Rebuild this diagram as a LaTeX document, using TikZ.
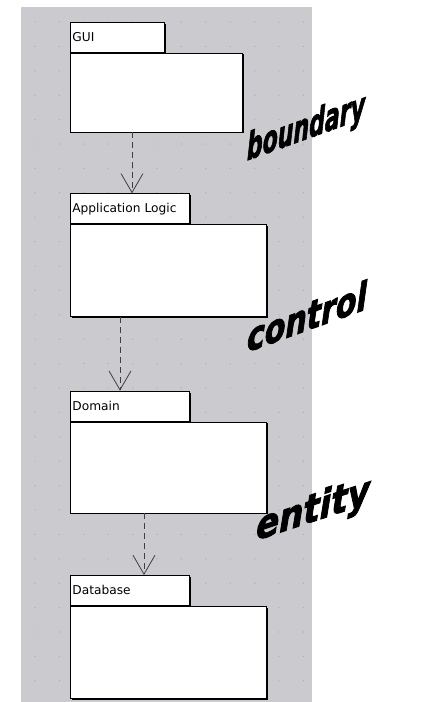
\documentclass[tikz,border=0pt]{standalone}
\usepackage{fontspec}
\setmainfont{DejaVu Sans}
\newfontface\wordartfont{DejaVu Sans Bold Oblique}[FakeBold=2.5]
\usetikzlibrary{positioning,arrows.meta,shadows}
\definecolor{panelgray}{RGB}{203,203,207}
\definecolor{dotgray}{RGB}{172,172,178}

\begin{document}
\begin{tikzpicture}[x=1pt, y=-1pt,
  pkgtab/.style={draw, fill=white, line width=.8pt, inner xsep=2pt, inner ysep=0pt,
    minimum height=30pt, align=left, anchor=north west,
    font=\fontsize{12.2}{14}\selectfont,
    drop shadow={shadow xshift=1.4pt, shadow yshift=-1.4pt, fill=black, opacity=1}},
  pkgbody/.style={draw, fill=white, line width=.8pt, inner sep=0pt,
    drop shadow={shadow xshift=1.4pt, shadow yshift=-1.4pt, fill=black, opacity=1}},
  dep/.style={draw=black!75, line width=.8pt, dash pattern=on 6pt off 4pt,
    -{Straight Barb[length=19pt, width=22pt, line width=.8pt]}},
  layer/.style={inner sep=0pt, text=black}
]

\useasboundingbox (0,0) rectangle (432,702);
\fill [white] (0,0) rectangle (432,702);
\fill [panelgray] (21,6.5) rectangle (312,702);

\foreach \i in {0,...,11}
  \foreach \j in {0,...,27}
    \fill [dotgray] (35+24.4*\i, 22+24.4*\j) circle (.7pt);

% packages
\node [pkgtab, text width=90pt] (guitab) at (70,21.7) {GUI};
\node [pkgbody, below right=0pt and 0pt of guitab.south west, minimum width=172pt, minimum height=79pt] (gui) {};

\node [pkgtab, text width=115pt] (apptab) at (70,193.3) {Application Logic};
\node [pkgbody, below right=0pt and 0pt of apptab.south west, minimum width=196pt, minimum height=92pt] (app) {};

\node [pkgtab, text width=115pt] (domtab) at (70,390.7) {Domain};
\node [pkgbody, below right=0pt and 0pt of domtab.south west, minimum width=196pt, minimum height=91pt] (dom) {};

\node [pkgtab, text width=115pt] (dbtab) at (70,575) {Database};
\node [pkgbody, below right=0pt and 0pt of dbtab.south west, minimum width=196pt, minimum height=92pt] (db) {};

% dependencies
\draw [dep] ([xshift=62pt]gui.south west) -- ([xshift=62pt]apptab.north west);
\draw [dep] ([xshift=50pt]app.south west) -- ([xshift=50pt]domtab.north west);
\draw [dep] ([xshift=74pt]dom.south west) -- ([xshift=74pt]dbtab.north west);

% layer names
\node [layer, yslant=.36, yscale=1.7, font=\fontsize{22}{24}\selectfont\wordartfont] (boundary) at (306,129) {boundary};
\node [layer, yslant=.36, yscale=1.3, font=\fontsize{30}{32}\selectfont\wordartfont] (control) at (307,316) {control};
\node [layer, yslant=.33, yscale=1.15, font=\fontsize{34}{36}\selectfont\wordartfont] (entity) at (313,511) {entity};

\end{tikzpicture}
\end{document}
